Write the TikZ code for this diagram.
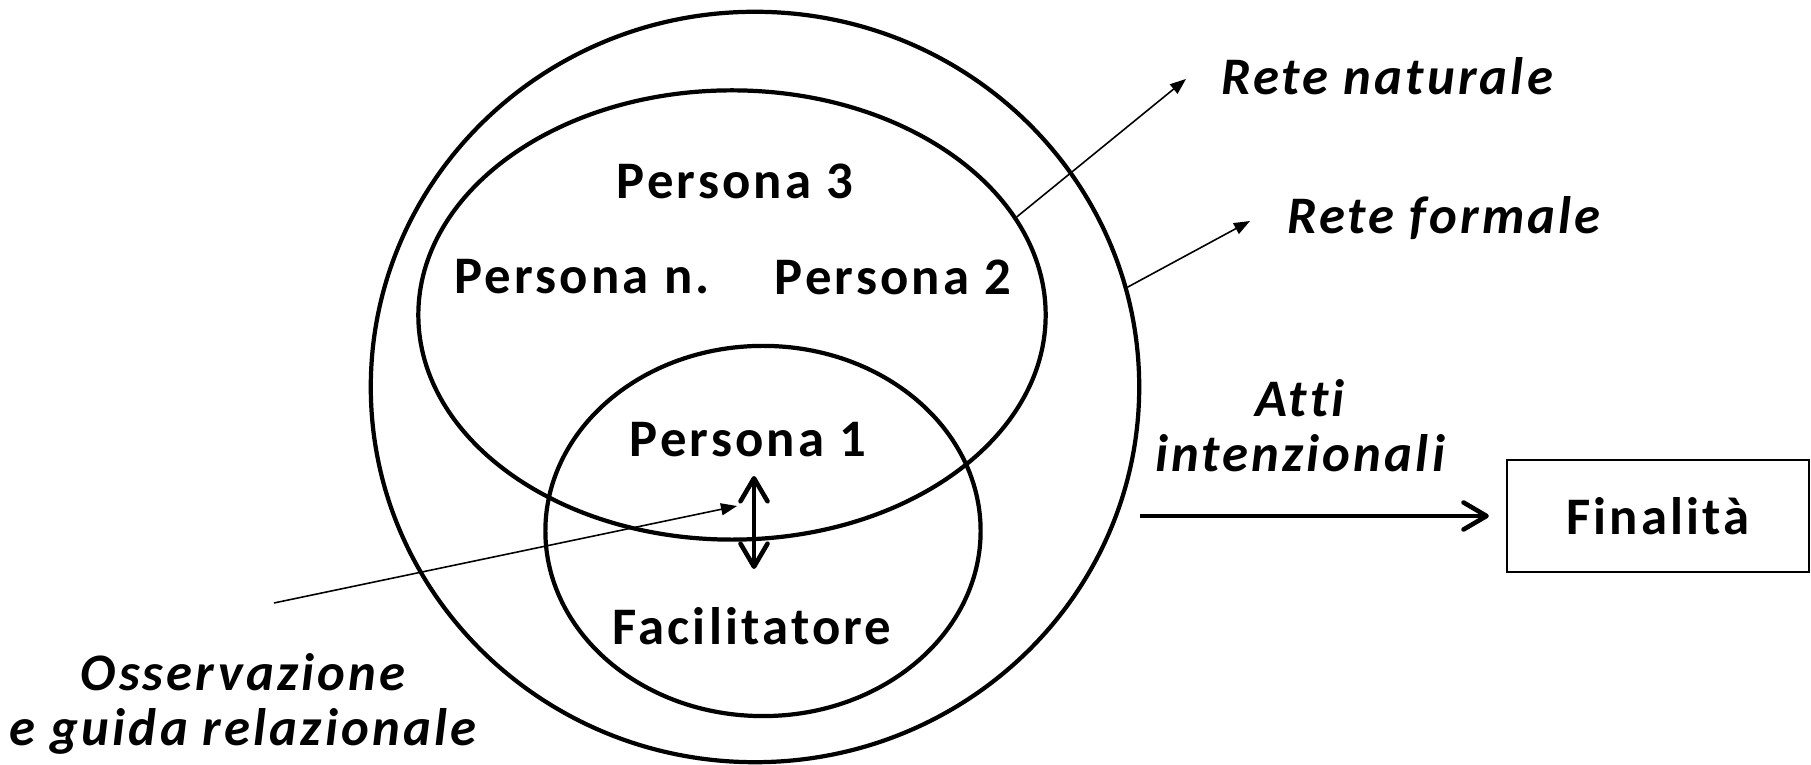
\documentclass[tikz,border=0pt]{standalone}
\usepackage{fontspec}
\setmainfont{Carlito}[Ligatures=NoCommon, LetterSpace=6]
\usepackage{tikz}
\usetikzlibrary{shapes}
\usetikzlibrary{arrows.meta}
\usetikzlibrary{positioning}

\tikzset{
  ring/.style={draw, ellipse, line width=1.2pt, inner sep=0pt},
  lbl/.style={font=\fontsize{15}{16}\selectfont\bfseries},
  tag/.style={font=\fontsize{15}{15.7}\selectfont\bfseries\itshape, align=center},
  pointer/.style={-{Triangle[length=1.6mm, width=1.2mm]}, line width=0.45pt},
  barb/.tip={Straight Barb[length=2.3mm, width=2.7mm, round]},
  flow/.style={-barb, line width=1.3pt},
  twoway/.style={barb-barb, line width=1.3pt}
}

\begin{document}
\begin{tikzpicture}[x = 0.01cm, y = -0.01cm]
	\useasboundingbox (0, 0) rectangle (1811, 765);

	% Rings
	\node[ring, minimum width=7.68cm, minimum height=7.5cm] (formale) at (755, 387) {};
	\node[ring, minimum width=6.27cm, minimum height=4.49cm] (naturale) at (732, 315) {};
	\node[ring, minimum width=4.35cm, minimum height=3.70cm] (coppia) at (763, 531) {};

	% People
	\node[lbl] (p3) at (735, 181) {Persona 3};
	\node[lbl] (pn) at (582, 277) {Persona n.};
	\node[lbl] (p2) at (893, 277) {Persona 2};
	\node[lbl] (p1) at (748, 440) {Persona 1};
	\node[lbl] (fac) at (752, 626) {Facilitatore};

	% Labels
	\node[tag] (tnat) at (1387, 76) {Rete naturale};
	\node[tag] (tform) at (1444, 218) {Rete formale};
	\node[tag] (tatti) at (1300, 426) {Atti\\intenzionali};
	\node[tag] (toss) at (243, 704) {Osservazione\\e guida relazionale};
	\node[draw, line width=0.6pt, minimum width=3.02cm, minimum height=1.12cm, lbl] (fin) at (1658, 516) {Finalità};

	% Free ends
	\coordinate (natend) at (1186, 79);
	\coordinate (formend) at (1250, 221);
	\coordinate (osstart) at (274, 603);
	\coordinate (osend) at (737, 506);
	\coordinate (up) at (754, 476);
	\coordinate (dn) at (754, 569);
	\coordinate (go) at (1140, 516);

	% Arrows
	\draw[pointer] (naturale.19.2) to (natend);
	\draw[pointer] (formale.15.8) to (formend);
	\draw[pointer] (osstart) to (osend);
	\draw[twoway] (dn) to (up);
	\draw[flow, shorten >=0.17cm] (go) to (fin.west);
\end{tikzpicture}
\end{document}
